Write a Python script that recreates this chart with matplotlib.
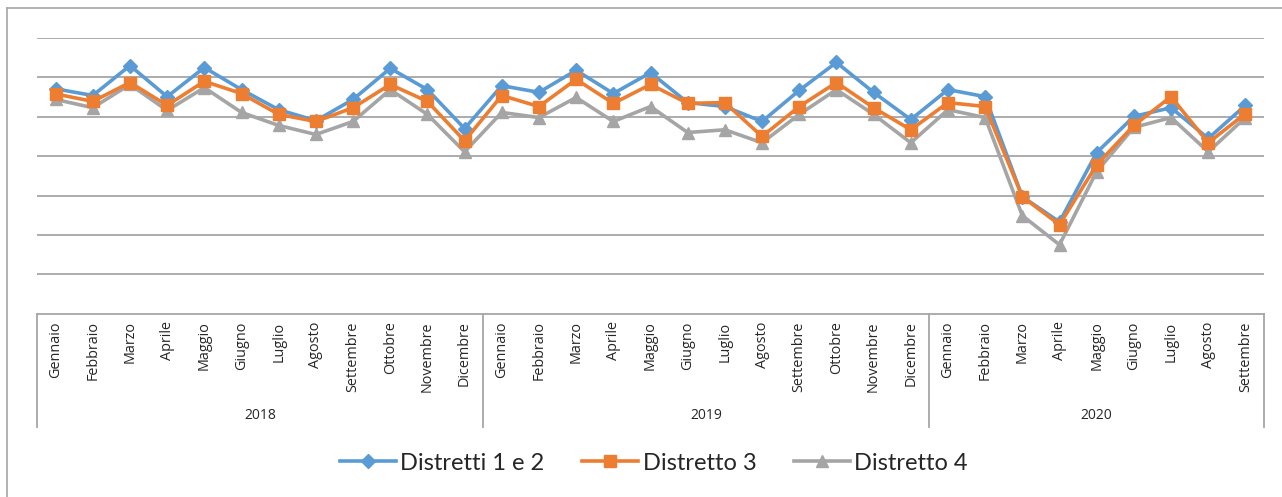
import matplotlib
matplotlib.use("Agg")
import matplotlib.pyplot as plt
from matplotlib.lines import Line2D
import numpy as np

# Monthly index values per district (Jan 2018 - Sep 2020)
months = ["Gennaio", "Febbraio", "Marzo", "Aprile", "Maggio", "Giugno",
          "Luglio", "Agosto", "Settembre", "Ottobre", "Novembre", "Dicembre"]
years = ["2018", "2019", "2020"]
months_per_year = [12, 12, 9]

distretti_1_2 = [5.71, 5.54, 6.30, 5.51, 6.25, 5.69, 5.18, 4.90, 5.44, 6.23, 5.69, 4.70,
                 5.79, 5.62, 6.18, 5.59, 6.12, 5.36, 5.26, 4.88, 5.67, 6.38, 5.62, 4.93,
                 5.69, 5.51, 2.97, 2.33, 4.09, 5.01, 5.23, 4.45, 5.29]
distretto_3 = [5.58, 5.39, 5.87, 5.29, 5.90, 5.59, 5.06, 4.88, 5.23, 5.82, 5.39, 4.39,
               5.54, 5.26, 5.95, 5.34, 5.82, 5.34, 5.36, 4.50, 5.26, 5.87, 5.23, 4.67,
               5.36, 5.26, 2.97, 2.26, 3.78, 4.78, 5.51, 4.34, 5.08]
distretto_4 = [5.44, 5.23, 5.82, 5.16, 5.74, 5.11, 4.78, 4.55, 4.88, 5.69, 5.06, 4.11,
               5.11, 4.98, 5.49, 4.88, 5.26, 4.60, 4.67, 4.34, 5.06, 5.69, 5.06, 4.34,
               5.18, 4.98, 2.49, 1.75, 3.61, 4.73, 4.98, 4.11, 4.98]

labels_month = []
for n in months_per_year:
    labels_month += months[:n]

W, H = 1282, 497
fig = plt.figure(figsize=(W / 100, H / 100), dpi=100)

def fx(px):
    return px / W

def fy(py):
    return 1 - py / H

# Outer chart frame (left and top edges)
fig.add_artist(Line2D([fx(7), fx(7)], [fy(8), 0], color="#a6a6a6", lw=1.2))
fig.add_artist(Line2D([fx(7), 1], [fy(8), fy(8)], color="#a6a6a6", lw=1.2))

left, right, top, bottom = 37, 1264, 38, 313.7
ax = fig.add_axes([fx(left), fy(bottom), fx(right - left), (bottom - top) / H])

x = np.arange(len(labels_month))
grid_color = "#a6a6a6"
ax.set_ylim(0, 7)
ax.set_xlim(-0.5, len(x) - 0.5)
for g in range(1, 8):
    ax.axhline(g, color=grid_color, lw=1.3, zorder=0)

ax.plot(x, distretti_1_2, color="#5b9bd5", lw=2.6, marker="D", ms=7.5,
        label="Distretti 1 e 2", zorder=3)
ax.plot(x, distretto_3, color="#ed7d31", lw=2.6, marker="s", ms=8.5,
        label="Distretto 3", zorder=4)
ax.plot(x, distretto_4, color="#a5a5a5", lw=2.6, marker="^", ms=9,
        label="Distretto 4", zorder=2)

for s in ["top", "right", "left"]:
    ax.spines[s].set_visible(False)
ax.spines["bottom"].set_color(grid_color)
ax.spines["bottom"].set_linewidth(1.3)
ax.set_xticks([])
ax.set_yticks([])

# Two-level category axis: months (rotated) and years
trans = ax.get_xaxis_transform()
for xi, m in zip(x, labels_month):
    ax.text(xi, -0.028, m, rotation=90, ha="center", va="top", fontsize=10.4,
            family="Open Sans", color="#262626", transform=trans)

sep_bottom = -(427 - bottom) / (bottom - top)
start = 0
bounds = [-0.5]
for yr, n in zip(years, months_per_year):
    end = start + n
    bounds.append(end - 0.5)
    ax.text((start + end - 1) / 2, -(415 - bottom) / (bottom - top), yr,
            ha="center", va="center", fontsize=10, family="Open Sans",
            color="#262626", transform=trans)
    start = end
for b in bounds:
    ax.plot([b, b], [0, sep_bottom], color=grid_color, lw=1.3,
            transform=trans, clip_on=False)

leg = fig.legend(loc="center", bbox_to_anchor=(fx(654), fy(463)), ncol=3,
                 frameon=False, prop={"family": "Lato", "size": 17},
                 handlelength=2.35, columnspacing=1.6, handletextpad=0.2)
for t in leg.get_texts():
    t.set_color("#262626")

fig.savefig("out.png", dpi=100)
